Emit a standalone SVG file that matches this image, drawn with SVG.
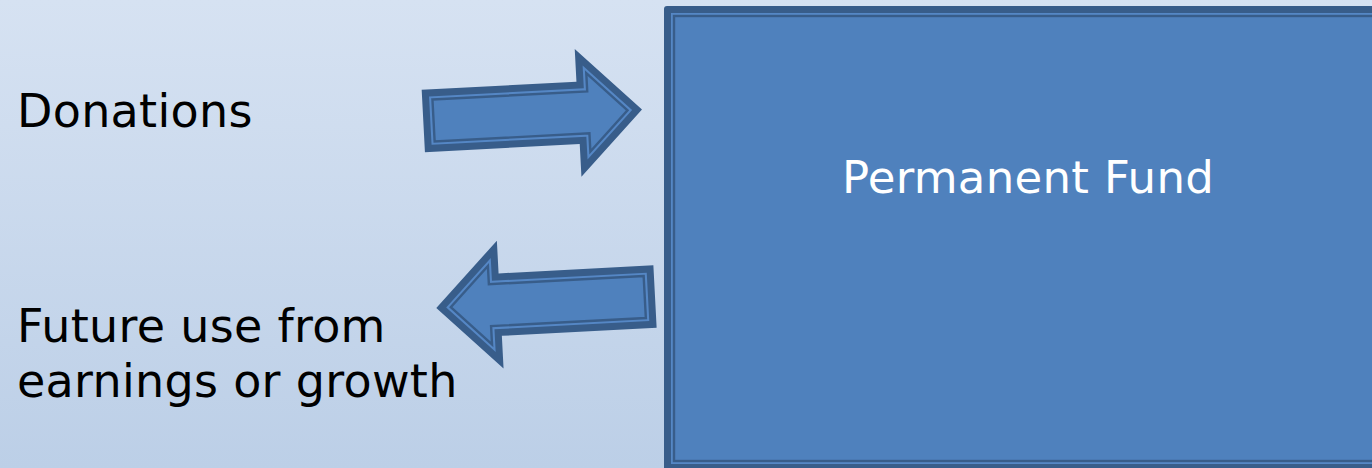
<svg xmlns="http://www.w3.org/2000/svg" width="1372" height="468" viewBox="0 0 1372 468">
<defs>
<linearGradient id="bg" x1="0" y1="0" x2="0" y2="1">
<stop offset="0" stop-color="#d6e2f2"/>
<stop offset="1" stop-color="#bccfe7"/>
</linearGradient>
<g id="arrowShape">
<polygon class="outer" points="0,-31.25 155,-31.25 155,-64 219,0 155,64 155,31.25 0,31.25"/>
<polygon class="mid" points="7,-24.25 162,-24.25 162,-47.1 209.1,0 162,47.1 162,24.25 7,24.25"/>
<polygon class="inner" points="10.25,-21 165.25,-21 165.25,-39.3 204.5,0 165.25,39.3 165.25,21 10.25,21"/>
</g>
</defs>
<style>
.outer{fill:#385d8a}
.mid{fill:#5587c5}
.inner{fill:#4f81bd;stroke:#385d8a;stroke-width:2.4;stroke-linejoin:miter}
.label{font-family:"DejaVu Sans",Verdana,sans-serif;font-size:46px;letter-spacing:0.3px;fill:#000000}
.title{font-family:"DejaVu Sans",Verdana,sans-serif;font-size:45px;letter-spacing:0.3px;fill:#ffffff;text-anchor:middle}
</style>
<rect x="0" y="0" width="1372" height="468" fill="url(#bg)"/>
<g id="connectors">
<use id="arrow-in" href="#arrowShape" transform="translate(423.3,121) rotate(-3)"/>
<use id="arrow-out" href="#arrowShape" transform="translate(655,296.5) rotate(-3) scale(-1,1)"/>
</g>
<g id="permanent-fund">
<rect class="outer" x="664" y="6" width="728" height="465" rx="3"/>
<rect class="mid" x="671" y="13" width="714" height="451"/>
<rect class="inner" x="674" y="16" width="708" height="445"/>
<text class="title" x="1028" y="193">Permanent Fund</text>
</g>
<g id="donations">
<text class="label" x="17" y="127">Donations</text>
</g>
<g id="future-use">
<text class="label" x="17" y="342">Future use from</text>
<text class="label" x="17" y="397">earnings or growth</text>
</g>
</svg>
